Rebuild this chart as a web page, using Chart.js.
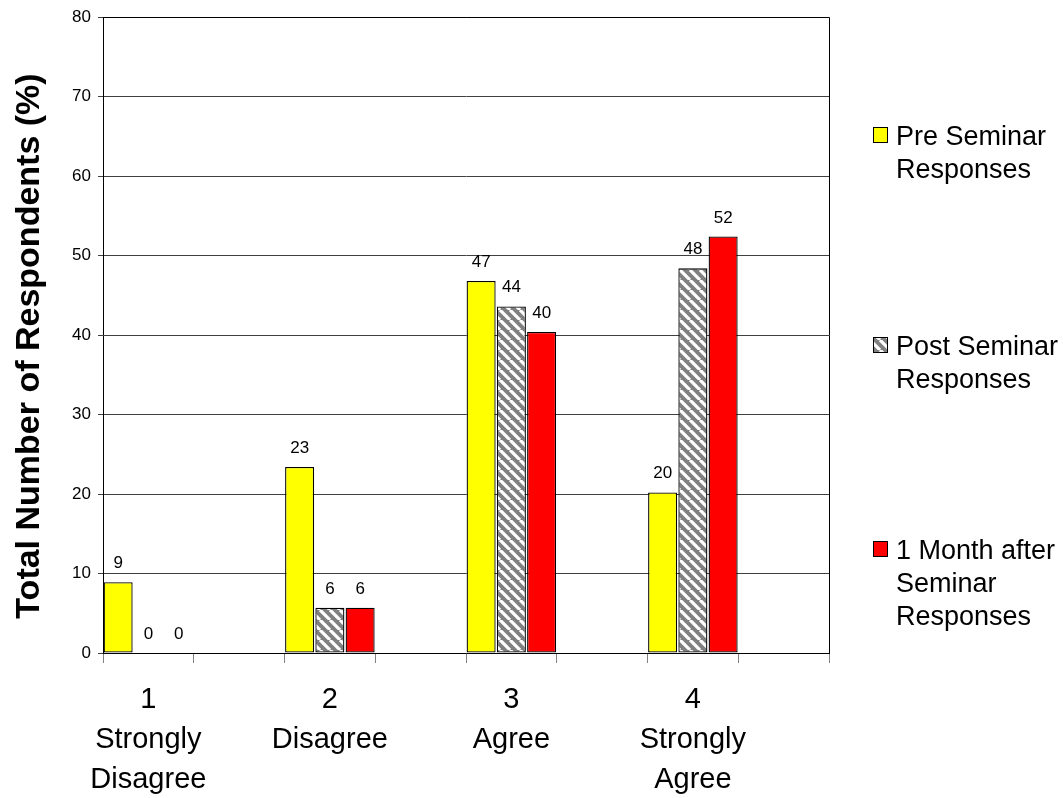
<!DOCTYPE html>
<html>
<head>
<meta charset="utf-8">
<script src="https://cdn.jsdelivr.net/npm/chart.js@4.4.1/dist/chart.umd.min.js"></script>
<style>
  html, body { margin: 0; padding: 0; background: #ffffff; }
  canvas { display: block; }
</style>
</head>
<body>
<canvas id="chart" width="1063" height="798"></canvas>
<script>
// Response levels (multi-line axis labels)
const categories = [
  ["1", "Strongly", "Disagree"],
  ["2", "Disagree"],
  ["3", "Agree"],
  ["4", "Strongly", "Agree"]
];

// Share of respondents (%) per response level
const preSeminar    = [8.9, 23.4, 46.8, 20.2];
const postSeminar   = [0,   5.7,  43.6, 48.4];
const oneMonthAfter = [0,   5.7,  40.4, 52.4];

const seriesNames = [
  ["Pre Seminar", "Responses"],
  ["Post Seminar", "Responses"],
  ["1 Month after", "Seminar", "Responses"]
];

const yAxisTitle = "Total Number of Respondents (%)";
const FONT = "'Liberation Sans', Arial, Helvetica, sans-serif";

// Every response level is followed by an empty slot on the category axis
function withSpacers(arr, filler) {
  const out = [];
  arr.forEach(v => { out.push(v); out.push(filler); });
  return out;
}

// Grey fill with white diagonal stripes
function makeHatch() {
  const s = 10;
  const c = document.createElement('canvas');
  c.width = s; c.height = s;
  const g = c.getContext('2d');
  g.fillStyle = '#808080';
  g.fillRect(0, 0, s, s);
  g.strokeStyle = '#ffffff';
  g.lineWidth = 3.2;
  g.beginPath();
  for (const o of [-s, 0, s]) { g.moveTo(o, 0); g.lineTo(o + s, s); }
  g.stroke();
  return g.createPattern(c, 'repeat');
}

const hatch = makeHatch();
const seriesFills = ['#ffff00', hatch, '#ff0000'];

// Box around the plotting area
const plotFrame = {
  id: 'plotFrame',
  beforeDatasetsDraw(chart) {
    const { ctx, chartArea: a } = chart;
    ctx.save();
    ctx.strokeStyle = '#000000';
    ctx.lineWidth = 1;
    ctx.beginPath();
    ctx.moveTo(Math.round(a.left) + 0.5, Math.round(a.top) + 0.5);
    ctx.lineTo(Math.round(a.right) + 0.5, Math.round(a.top) + 0.5);
    ctx.lineTo(Math.round(a.right) + 0.5, Math.round(a.bottom) + 0.5);
    ctx.stroke();
    ctx.restore();
  }
};

// Rounded value above every bar
const valueLabels = {
  id: 'valueLabels',
  afterDatasetsDraw(chart) {
    const { ctx } = chart;
    ctx.save();
    ctx.font = `17px ${FONT}`;
    ctx.fillStyle = '#000000';
    ctx.textAlign = 'center';
    ctx.textBaseline = 'alphabetic';
    chart.data.datasets.forEach((ds, di) => {
      const meta = chart.getDatasetMeta(di);
      meta.data.forEach((bar, i) => {
        const v = ds.data[i];
        if (v === null || v === undefined) return;
        ctx.fillText(String(Math.round(v)), bar.x, bar.y - 14);
      });
    });
    ctx.restore();
  }
};

// Rotated y-axis title and the legend on the right
const sideTexts = {
  id: 'sideTexts',
  afterDraw(chart) {
    const { ctx } = chart;
    ctx.save();
    ctx.fillStyle = '#000000';
    ctx.font = `bold 34px ${FONT}`;
    ctx.textAlign = 'center';
    ctx.textBaseline = 'alphabetic';
    ctx.translate(39, 346);
    ctx.rotate(-Math.PI / 2);
    ctx.fillText(yAxisTitle, 0, 0);
    ctx.restore();

    const baselines = [145, 355, 559];
    ctx.save();
    ctx.font = `27px ${FONT}`;
    ctx.textAlign = 'left';
    ctx.textBaseline = 'alphabetic';
    seriesNames.forEach((lines, i) => {
      const b = baselines[i];
      ctx.fillStyle = seriesFills[i];
      ctx.fillRect(873, b - 18, 14, 15);
      ctx.strokeStyle = '#000000';
      ctx.lineWidth = 1;
      ctx.strokeRect(873.5, b - 17.5, 14, 15);
      ctx.fillStyle = '#000000';
      lines.forEach((t, k) => ctx.fillText(t, 896, b + k * 33));
    });
    ctx.restore();
  }
};

const labels = withSpacers(categories, "");
const seriesData = [preSeminar, postSeminar, oneMonthAfter];

new Chart(document.getElementById('chart'), {
  type: 'bar',
  data: {
    labels: labels,
    datasets: seriesData.map((vals, i) => ({
      label: seriesNames[i].join(' '),
      data: withSpacers(vals, null),
      backgroundColor: seriesFills[i],
      borderColor: '#000000',
      borderWidth: 1.3,
      borderSkipped: false,
      categoryPercentage: 1.0,
      barPercentage: 0.96
    }))
  },
  options: {
    responsive: false,
    devicePixelRatio: 1,
    animation: false,
    layout: { padding: { top: 17, right: 234, bottom: 0, left: 0 } },
    plugins: {
      legend: { display: false },
      tooltip: { enabled: false }
    },
    scales: {
      x: {
        offset: true,
        grid: {
          offset: true,
          drawOnChartArea: false,
          drawTicks: true,
          tickLength: 10,
          color: '#808080'
        },
        border: { display: true, color: '#000000', width: 1 },
        ticks: {
          color: '#000000',
          font: { family: FONT, size: 29, lineHeight: 1.38 },
          padding: 17,
          maxRotation: 0,
          autoSkip: false
        },
        afterFit(scale) { scale.height = 145; }
      },
      y: {
        min: 0,
        max: 80,
        ticks: {
          stepSize: 10,
          color: '#000000',
          font: { family: FONT, size: 17 },
          padding: 7
        },
        grid: { color: '#404040', tickLength: 5 },
        border: { display: true, color: '#000000', width: 1 },
        afterFit(scale) { scale.width = 103; }
      }
    }
  },
  plugins: [plotFrame, valueLabels, sideTexts]
});
</script>
</body>
</html>
